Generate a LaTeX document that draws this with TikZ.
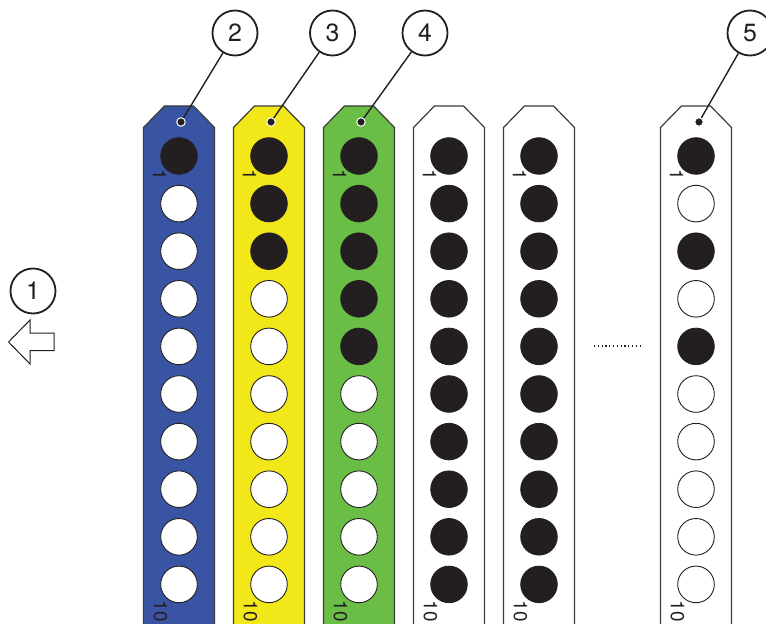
\documentclass[tikz,border=0pt]{standalone}
\usepackage{fontspec}
\setmainfont{TeX Gyre Heros}
\definecolor{stripblue}{RGB}{57,84,163}
\definecolor{stripyellow}{RGB}{242,232,25}
\definecolor{stripgreen}{RGB}{106,189,69}
\definecolor{ink}{RGB}{35,31,32}
\definecolor{edge}{RGB}{60,60,60}
\tikzset{
  stripbody/.style={draw=edge, line width=1.2bp},
  holefull/.style={circle, fill=ink, draw=ink, line width=0.8bp, minimum size=36.6bp, inner sep=0pt},
  holeempty/.style={circle, fill=white, draw=ink, line width=0.9bp, minimum size=36.6bp, inner sep=0pt},
  numlabel/.style={font=\fontsize{19}{19}\selectfont, text=ink, rotate=-90, inner sep=0pt},
  pointer/.style={circle, fill=ink, draw=white, line width=1bp, minimum size=8.5bp, inner sep=0pt},
  callout/.style={circle, draw=ink, line width=1.8bp, fill=white, minimum size=45bp, inner sep=0pt, font=\fontsize{25}{25}\selectfont, text=ink},
  leader/.style={draw=ink, line width=1.4bp},
  hollowarrow/.style={draw=ink, line width=1bp, fill=white, line join=miter}
}
\begin{document}
\begin{tikzpicture}[x=1bp, y=-1bp]
\useasboundingbox (0,0) rectangle (766,624);
\clip (0,0) rectangle (766,624);
% strips
\foreach \cx/\col/\n [count=\i] in {179/stripblue/1, 269/stripyellow/3, 359/stripgreen/5, 449/white/10, 539/white/10, 696/white/0}{
  \draw[stripbody, fill=\col] (\cx-35.5,640) -- (\cx-35.5,127.5) -- (\cx-14.5,106) -- (\cx+14.5,106) -- (\cx+35.5,127.5) -- (\cx+35.5,640);
  \foreach \k in {1,...,10}{
    \pgfmathsetmacro\yy{156+(\k-1)*47.6}
    \ifnum\i=6
      \ifodd\k \ifnum\k<6
        \node[holefull] (h-\i-\k) at (\cx,\yy) {};
      \else
        \node[holeempty] (h-\i-\k) at (\cx,\yy) {};
      \fi
      \else
        \node[holeempty] (h-\i-\k) at (\cx,\yy) {};
      \fi
    \else
      \ifnum\k>\n
        \node[holeempty] (h-\i-\k) at (\cx,\yy) {};
      \else
        \node[holefull] (h-\i-\k) at (\cx,\yy) {};
      \fi
    \fi
  }
  \node[numlabel] (first-\i) at (\cx-19.5,174.5) {1};
  \node[numlabel] (last-\i) at (\cx-18.5,611) {10};
}
% pointers
\node[pointer] (p2) at (181,122) {};
\node[pointer] (p3) at (271,122) {};
\node[pointer] (p4) at (361,122) {};
\node[pointer] (p5) at (699,122) {};
% callouts
\node[callout] (c1) at (33,291) {1};
\node[callout] (c2) at (235,33) {2};
\node[callout] (c3) at (332.5,33) {3};
\node[callout] (c4) at (425,33) {4};
\node[callout] (c5) at (750,33) {5};
\draw[leader] (c2) -- (p2);
\draw[leader] (c3) -- (p3);
\draw[leader] (c4) -- (p4);
\draw[leader] (c5) -- (p5);
% direction arrow
\draw[hollowarrow] (8.5,342) -- (30,320) -- (30,333) -- (54,333) -- (54,350.5) -- (30,350.5) -- (30,364) -- cycle;
% ellipsis
\coordinate (dl) at (594,346);
\coordinate (dr) at (640,346);
\draw[ink, line width=1.2bp, dash pattern=on 1.2bp off 2.6bp] (dl) -- (dr);
\end{tikzpicture}
\end{document}
